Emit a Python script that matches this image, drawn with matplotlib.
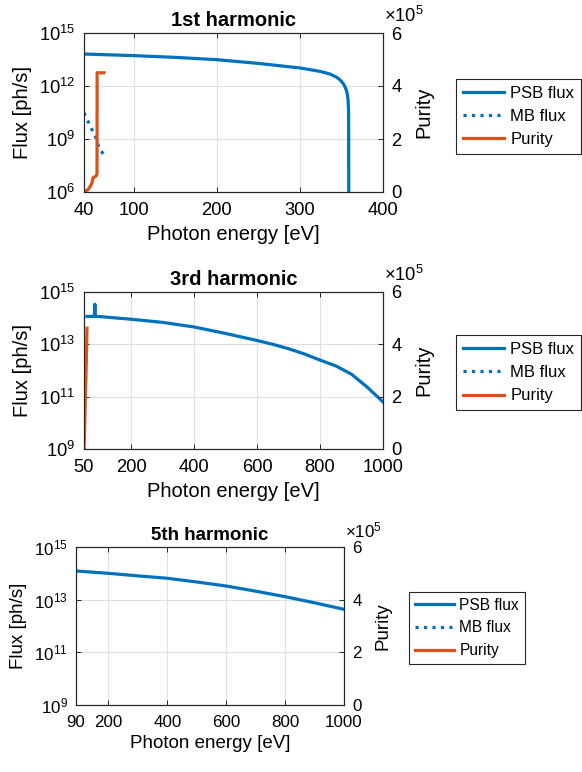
import matplotlib
matplotlib.use('Agg')
import matplotlib.pyplot as plt
from matplotlib.ticker import FixedLocator, LogFormatterMathtext, NullLocator, FixedFormatter

plt.rcParams['font.family'] = ['Liberation Sans', 'DejaVu Sans']
plt.rcParams['mathtext.fontset'] = 'custom'
plt.rcParams['mathtext.rm'] = 'Liberation Sans'
plt.rcParams['mathtext.it'] = 'Liberation Sans:italic'
plt.rcParams['mathtext.bf'] = 'Liberation Sans:bold'
plt.rcParams['mathtext.default'] = 'regular'

BLUE = '#0072BD'
ORANGE = '#D95319'
AXC = '#262626'

# ---------------- data ----------------
titles = ['1st harmonic', '3rd harmonic', '5th harmonic']
legend_labels = ['PSB flux', 'MB flux', 'Purity']

# 1st harmonic
h1_psb_energy = [40, 100, 150, 200, 250, 300, 324, 336, 344, 348, 352, 354, 356, 357, 358,
                 358.6, 359]
h1_psb_flux = [6.46e13, 5.25e13, 4.17e13, 3.09e13, 1.9e13, 1.05e13, 6.76e12, 4.79e12, 3.16e12,
               2.29e12, 1.41e12, 9.5e11, 5.6e11, 3.5e11, 1.6e11, 3.2e10, 1e1]
h1_mb_energy = [40, 45, 50, 55.7, 58, 61, 64]
h1_mb_flux = [3.0e10, 9.5e9, 3.1e9, 8.7e8, 3.1e8, 2.0e8, 1.3e8]
h1_pur_energy = [40, 42.4, 44.8, 47.2, 49.6, 50.8, 54.4, 55.7, 55.8, 64]
h1_pur_value = [0, 0.04e5, 0.09e5, 0.19e5, 0.34e5, 0.53e5, 0.6e5, 0.68e5, 4.5e5, 4.5e5]

# 3rd harmonic
h3_psb_energy = [59.5, 84, 84.5, 85, 100, 200, 300, 400, 500, 600, 650, 700, 750, 800, 850,
                 900, 950, 1000]
h3_psb_flux = [1.17e14, 1.17e14, 3.4e14, 1.17e14, 1.15e14, 9.1e13, 6.9e13, 4.6e13, 2.6e13,
               1.4e13, 1.0e13, 6.8e12, 4.3e12, 2.5e12, 1.5e12, 7.2e11, 2.3e11, 6.3e10]
h3_mb_energy = [50, 52, 54]
h3_mb_flux = [1.0e9, 0.95e9, 0.9e9]
h3_pur_energy = [50, 51, 53, 56, 59.5]
h3_pur_value = [0, 0.3e5, 1.3e5, 2.7e5, 4.62e5]

# 5th harmonic
h5_psb_energy = [90, 200, 300, 400, 500, 600, 700, 800, 900, 1000]
h5_psb_flux = [1.23e14, 1.0e14, 8.0e13, 6.5e13, 4.7e13, 3.3e13, 2.1e13, 1.3e13, 7.6e12,
               4.3e12]
h5_mb_energy = []
h5_mb_flux = []
h5_pur_energy = []
h5_pur_value = []

# axis settings
xlims = [(40, 400), (50, 1000), (90, 1000)]
xticks = [[40, 100, 200, 300, 400], [50, 200, 400, 600, 800, 1000],
          [90, 200, 400, 600, 800, 1000]]
ylims = [(1e6, 1e15), (1e9, 1e15), (1e9, 1e15)]
yticks = [[1e6, 1e9, 1e12, 1e15], [1e9, 1e11, 1e13, 1e15], [1e9, 1e11, 1e13, 1e15]]
purity_ticks = [0, 2e5, 4e5, 6e5]
purity_ticklabels = ['0', '2', '4', '6']

series = [
    (h1_psb_energy, h1_psb_flux, h1_mb_energy, h1_mb_flux, h1_pur_energy, h1_pur_value),
    (h3_psb_energy, h3_psb_flux, h3_mb_energy, h3_mb_flux, h3_pur_energy, h3_pur_value),
    (h5_psb_energy, h5_psb_flux, h5_mb_energy, h5_mb_flux, h5_pur_energy, h5_pur_value),
]

# layout (pixels): left, right, top, bottom ; legend left x, center y ; font scale
W, H = 582, 772
boxes = [(84, 383, 33, 192), (84, 383, 292, 449), (76, 344, 547, 705)]
legpos = [(456, 116.5), (456, 372.5), (409, 628)]
fscale = [1.0, 1.0, 0.93]

fig = plt.figure(figsize=(W / 100, H / 100), dpi=100)

for i in range(3):
    l, r, t, b = boxes[i]
    s = fscale[i]
    tick_fs = 13.2 * s
    lab_fs = 14.5 * s
    leg_fs = 12 * s
    ax = fig.add_axes([l / W, 1 - b / H, (r - l) / W, (b - t) / H])
    ax2 = ax.twinx()
    ax.set_zorder(1)
    ax2.set_zorder(2)
    ax2.patch.set_visible(False)

    pe, pf, me, mf, ue, uv = series[i]
    l1, = ax.plot(pe, pf, color=BLUE, lw=2.3, solid_joinstyle='round')
    l2, = ax.plot(me, mf, color=BLUE, lw=2.3, linestyle=':')
    l3, = ax2.plot(ue, uv, color=ORANGE, lw=2.3)

    ax.set_yscale('log')
    ax.set_xlim(*xlims[i])
    ax.set_ylim(*ylims[i])
    ax.xaxis.set_major_locator(FixedLocator(xticks[i]))
    ax.xaxis.set_minor_locator(NullLocator())
    ax.yaxis.set_major_locator(FixedLocator(yticks[i]))
    ax.yaxis.set_major_formatter(LogFormatterMathtext())
    ax.yaxis.set_minor_locator(NullLocator())
    ax.grid(True, color='#dfdfdf', linewidth=0.8)
    ax.set_axisbelow(True)

    ax2.set_ylim(0, 6e5)
    ax2.yaxis.set_major_locator(FixedLocator(purity_ticks))
    ax2.yaxis.set_major_formatter(FixedFormatter(purity_ticklabels))
    ax2.yaxis.set_minor_locator(NullLocator())

    for a in (ax, ax2):
        for sp in a.spines.values():
            sp.set_color(AXC)
            sp.set_linewidth(0.8)
    ax.tick_params(axis='both', which='major', direction='in', length=3.5, width=0.7,
                   labelsize=tick_fs, pad=6, colors=AXC, labelcolor='black', top=True,
                   right=False)
    ax.tick_params(axis='x', pad=7.5 * s)
    ax2.tick_params(axis='y', which='major', direction='in', length=3.5, width=0.7,
                    labelsize=tick_fs, pad=6, colors=AXC, labelcolor='black')

    ax.set_xlabel('Photon energy [eV]', fontsize=lab_fs, labelpad=4)
    ax.set_ylabel('Flux [ph/s]', fontsize=lab_fs, labelpad=5)
    ax2.set_ylabel('Purity', fontsize=lab_fs, labelpad=9)
    ax.set_title(titles[i], fontsize=lab_fs, fontweight='bold', pad=5)

    ax2.annotate(r'$\times10^{5}$', xy=(1, 1), xycoords='axes fraction',
                 xytext=(1, 5), textcoords='offset points', ha='left', va='bottom',
                 fontsize=tick_fs)

    lx, ly = legpos[i]
    leg = ax2.legend([l1, l2, l3], legend_labels, loc='center left',
                     bbox_to_anchor=(lx / W, 1 - ly / H), bbox_transform=fig.transFigure,
                     fontsize=leg_fs, frameon=True, fancybox=False, framealpha=1,
                     edgecolor=AXC, borderpad=0.4, handlelength=2.5, handletextpad=0.35,
                     labelspacing=0.5, borderaxespad=0)
    leg.get_frame().set_linewidth(0.8)

fig.savefig('out.png', dpi=100)
